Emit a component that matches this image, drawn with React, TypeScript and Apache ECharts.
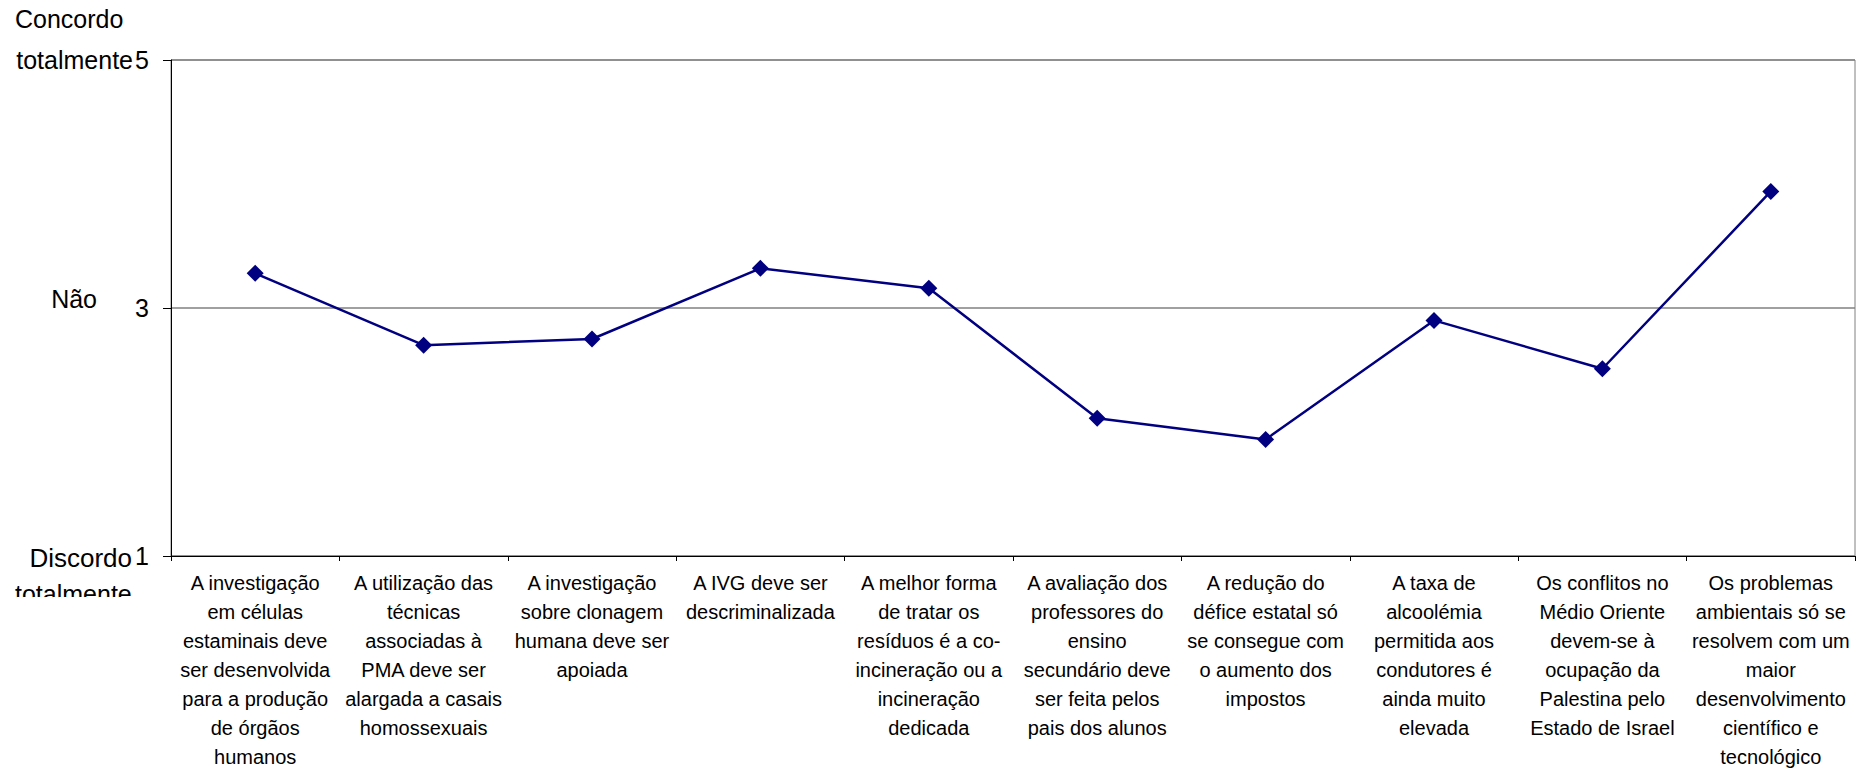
import React, { useEffect, useRef } from "react";
import * as echarts from "echarts";

const categories: string[] = [
  "A investigação\nem células\nestaminais deve\nser desenvolvida\npara a produção\nde órgãos\nhumanos",
  "A utilização das\ntécnicas\nassociadas à\nPMA deve ser\nalargada a casais\nhomossexuais",
  "A investigação\nsobre clonagem\nhumana deve ser\napoiada",
  "A IVG deve ser\ndescriminalizada",
  "A melhor forma\nde tratar os\nresíduos é a co-\nincineração ou a\nincineração\ndedicada",
  "A avaliação dos\nprofessores do\nensino\nsecundário deve\nser feita pelos\npais dos alunos",
  "A redução do\ndéfice estatal só\nse consegue com\no aumento dos\nimpostos",
  "A taxa de\nalcoolémia\npermitida aos\ncondutores é\nainda muito\nelevada",
  "Os conflitos no\nMédio Oriente\ndevem-se à\nocupação da\nPalestina pelo\nEstado de Israel",
  "Os problemas\nambientais só se\nresolvem com um\nmaior\ndesenvolvimento\ncientífico e\ntecnológico",
];

const values: number[] = [3.28, 2.7, 2.75, 3.32, 3.16, 2.11, 1.94, 2.9, 2.51, 3.94];

const yMin = 1;
const yMax = 5;
const yInterval = 2;

const FONT = "'Liberation Sans', Arial, sans-serif";

export default function App() {
  const ref = useRef<HTMLDivElement>(null);
  useEffect(() => {
    if (!ref.current) return;
    const chart = echarts.init(ref.current, null, { renderer: "svg" });
    chart.setOption({
      animation: false,
      backgroundColor: "#ffffff",
      grid: {
        left: 171,
        right: 14,
        top: 60,
        bottom: 209,
        show: true,
        borderColor: "#808080",
        borderWidth: 1,
        backgroundColor: "transparent",
      },
      xAxis: {
        type: "category",
        data: categories,
        boundaryGap: true,
        axisLine: { lineStyle: { color: "#000000", width: 1 } },
        axisTick: { show: true, length: 5, lineStyle: { color: "#000000" } },
        axisLabel: {
          interval: 0,
          margin: 12,
          color: "#000000",
          fontFamily: FONT,
          fontSize: 20,
          lineHeight: 29,
          align: "center",
        },
        splitLine: { show: false },
      },
      yAxis: {
        type: "value",
        min: yMin,
        max: yMax,
        interval: yInterval,
        axisLine: { show: true, lineStyle: { color: "#000000", width: 1 } },
        axisTick: { show: true, length: 8, lineStyle: { color: "#000000" } },
        axisLabel: {
          margin: 22,
          color: "#000000",
          fontFamily: FONT,
          fontSize: 25,
        },
        splitLine: { show: true, lineStyle: { color: "#808080", width: 1.5 } },
      },
      graphic: [
        {
          type: "text",
          left: 15,
          top: 6,
          style: { text: "Concordo", fill: "#000", font: `25px ${FONT}` },
        },
        {
          type: "text",
          x: 133,
          y: 60,
          style: {
            text: "totalmente",
            fill: "#000",
            font: `25px ${FONT}`,
            align: "right",
            verticalAlign: "middle",
          },
        },
        {
          type: "text",
          x: 97,
          y: 299,
          style: {
            text: "Não",
            fill: "#000",
            font: `25px ${FONT}`,
            align: "right",
            verticalAlign: "middle",
          },
        },
        {
          type: "text",
          x: 132,
          y: 558,
          style: {
            text: "Discordo",
            fill: "#000",
            font: `26px ${FONT}`,
            align: "right",
            verticalAlign: "middle",
          },
        },
        {
          type: "text",
          x: 15,
          y: 594,
          style: {
            text: "totalmente",
            fill: "#000",
            font: `25px ${FONT}`,
            align: "left",
            verticalAlign: "middle",
          },
        },
        {
          type: "rect",
          shape: { x: 0, y: 597, width: 160, height: 40 },
          style: { fill: "#ffffff" },
          z: 100,
        },
      ],
      series: [
        {
          type: "line",
          data: values,
          symbol: "diamond",
          symbolSize: 17,
          lineStyle: { color: "#000080", width: 2.5 },
          itemStyle: { color: "#000080" },
        },
      ],
    });
    return () => chart.dispose();
  }, []);
  return (
    <div
      ref={ref}
      style={{ position: "fixed", left: 0, top: 0, width: 1869, height: 771 }}
    />
  );
}
